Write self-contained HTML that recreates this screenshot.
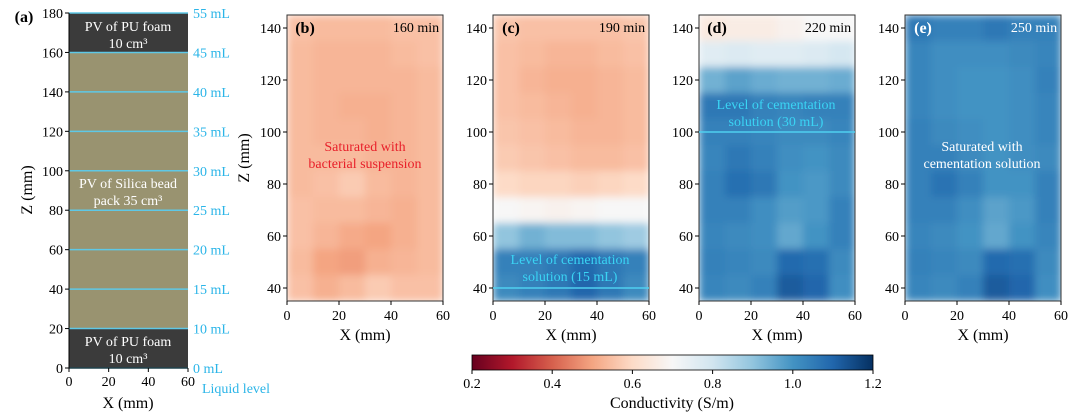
<!DOCTYPE html>
<html><head><meta charset="utf-8"><style>
body{margin:0;background:#fff;}
svg{display:block;font-family:"Liberation Serif",serif;}
</style></head><body>
<svg id="fig" width="1080" height="419" viewBox="0 0 1080 419">
<defs>
<filter id="blur" x="0" y="0" width="1" height="1"><feGaussianBlur stdDeviation="4" edgeMode="duplicate"/></filter>
<linearGradient id="cbgrad" x1="0" x2="1" y1="0" y2="0">
<stop offset="0" stop-color="#67001f"/><stop offset="0.1" stop-color="#b2182b"/><stop offset="0.2" stop-color="#d6604d"/><stop offset="0.3" stop-color="#f4a582"/><stop offset="0.4" stop-color="#fddbc7"/><stop offset="0.5" stop-color="#f7f7f7"/><stop offset="0.6" stop-color="#d1e5f0"/><stop offset="0.7" stop-color="#92c5de"/><stop offset="0.8" stop-color="#4393c3"/><stop offset="0.9" stop-color="#2166ac"/><stop offset="1" stop-color="#053061"/>
</linearGradient>
</defs>
</svg>
<script>
// Panel (a) data
const aZones = [[0,20,'#3b3b3b'],[20,160,'#999370'],[160,180,'#3b3b3b']];
const aLines = [0,20,40,60,80,100,120,140,160,180];
const aVolumes = ['0 mL','10 mL','15 mL','20 mL','25 mL','30 mL','35 mL','40 mL','45 mL','55 mL'];
const aYTicks = [0,20,40,60,80,100,120,140,160,180];
const xTicks = [0,20,40,60];
const hmYTicks = [40,60,80,100,120,140];
const gridX = [0,10,20,30,40,50];
const gridZ = [145,135,125,115,105,95,85,75,65,55,45];
const cbTicks = [0.2,0.4,0.6,0.8,1.0,1.2];

const valsB = [
[.55,.54,.54,.54,.55,.55],[.54,.53,.53,.53,.54,.55],[.54,.53,.53,.53,.53,.54],[.54,.53,.52,.52,.53,.54],
[.54,.53,.53,.52,.53,.54],[.54,.54,.54,.53,.53,.54],[.54,.55,.57,.54,.53,.54],[.55,.54,.54,.53,.52,.54],
[.55,.53,.51,.50,.52,.54],[.54,.50,.49,.52,.53,.54],[.55,.52,.54,.57,.55,.55]];
const valsC = [
[.56,.55,.55,.55,.55,.56],[.55,.54,.53,.53,.54,.55],[.55,.53,.52,.52,.53,.54],[.55,.54,.53,.52,.53,.54],
[.56,.55,.54,.53,.53,.54],[.57,.56,.55,.54,.54,.55],[.60,.59,.59,.58,.59,.60],[.70,.69,.68,.69,.70,.70],
[.90,.94,.92,.92,.90,.88],[1.04,1.04,1.06,1.09,1.06,1.04],[1.02,1.04,1.06,1.10,1.06,1.02]];
const valsD = [
[.65,.66,.66,.68,.70,.70],[.76,.77,.76,.76,.77,.79],[.94,.97,.95,.94,.94,.95],[1.06,1.06,1.04,1.03,1.04,1.04],
[1.04,1.04,1.03,1.02,1.02,1.03],[1.03,1.06,1.04,1.01,1.0,1.02],[1.04,1.08,1.06,1.0,.99,1.02],[1.04,1.04,1.01,.98,.99,1.04],
[1.03,1.02,1.01,.96,1.0,1.04],[1.04,1.03,1.02,1.09,1.08,1.02],[1.03,1.02,1.04,1.12,1.1,1.01]];
const valsE = [
[1.06,1.04,1.04,1.06,1.04,1.04],[1.03,1.01,1.01,1.01,1.02,1.03],[1.03,1.01,1.0,1.0,1.01,1.04],[1.03,1.01,1.0,1.0,1.01,1.03],
[1.04,1.02,1.01,1.0,1.01,1.03],[1.04,1.04,1.02,1.0,1.01,1.02],[1.04,1.07,1.04,1.0,1.0,1.04],[1.04,1.04,1.01,.97,.99,1.04],
[1.03,1.02,1.0,.96,1.0,1.03],[1.04,1.03,1.02,1.09,1.08,1.02],[1.03,1.02,1.04,1.12,1.1,1.01]];

const NS='http://www.w3.org/2000/svg';
const svg=document.getElementById('fig');
function mk(tag,attrs,parent,text){const e=document.createElementNS(NS,tag);for(const k in attrs)e.setAttribute(k,attrs[k]);if(text!==undefined)e.textContent=text;(parent||svg).appendChild(e);return e;}
const stops=[[103,0,31],[178,24,43],[214,96,77],[244,165,130],[253,219,199],[247,247,247],[209,229,240],[146,197,222],[67,147,195],[33,102,172],[5,48,97]];
function cmap(v){let t=(v-0.2)/1.0;t=Math.max(0,Math.min(1,t))*10;const i=Math.min(9,Math.floor(t)),f=t-i;const a=stops[i],b=stops[i+1];return 'rgb('+a.map((c,k)=>Math.round(c+(b[k]-c)*f)).join(',')+')';}

// Panel (a)
const ax={x0:69,x1:188,y0:368,y1:13};
const axX=v=>ax.x0+(ax.x1-ax.x0)*v/60, axY=v=>ax.y0+(ax.y1-ax.y0)*v/180;
const ga=mk('g',{});


aZones.forEach(z=>{const r=mk('rect',{x:axX(0),y:axY(z[1]),width:axX(60)-axX(0),height:axY(z[0])-axY(z[1]),fill:z[2]},ga);

});
aLines.forEach((v,i)=>{const l=mk('line',{x1:axX(0),x2:axX(60),y1:axY(v),y2:axY(v),stroke:'#5ec8e6','stroke-width':1.5},ga);


const t=mk('text',{x:193,y:axY(v)+5,fill:'#2bb5e8','font-size':14},ga,aVolumes[i]);

});
aYTicks.forEach(v=>{mk('line',{x1:axX(0)-4,x2:axX(0),y1:axY(v),y2:axY(v),stroke:'#000'},ga);
const t=mk('text',{x:axX(0)-6,y:axY(v)+5,'text-anchor':'end','font-size':14},ga,v);

});
xTicks.forEach(v=>{mk('line',{x1:axX(v),x2:axX(v),y1:ax.y0,y2:ax.y0+4,stroke:'#000'},ga);
const t=mk('text',{x:axX(v),y:ax.y0+18,'text-anchor':'middle','font-size':14},ga,v);

});
mk('line',{x1:ax.x0,x2:ax.x0,y1:ax.y1,y2:ax.y0,stroke:'#000'},ga);
mk('line',{x1:ax.x0,x2:ax.x1,y1:ax.y0,y2:ax.y0,stroke:'#000'},ga);
function txt(x,y,s,size,fill,name,extra){const t=mk('text',Object.assign({x:x,y:y,'font-size':size,fill:fill,'text-anchor':'middle'},extra||{}),svg,s);

return t;}
txt(128,31,'PV of PU foam',14,'#fff','pu-foam-top-label');
txt(128,48,'10 cm³',14,'#fff','pu-foam-top-volume');
txt(128,188,'PV of Silica bead',14,'#fff','silica-label');
txt(128,205,'pack 35 cm³',14,'#fff','silica-volume');
txt(128,346,'PV of PU foam',14,'#fff','pu-foam-bottom-label');
txt(128,363,'10 cm³',14,'#fff','pu-foam-bottom-volume');
txt(24,22,'(a)',16,'#000','panel-a-label',{'font-weight':'bold'});
txt(128,408,'X (mm)',16,'#000','x-axis-title-a');
txt(0,0,'Z (mm)',16,'#000','y-axis-title-a',{transform:'translate(32,190) rotate(-90)'});
txt(236,393,'Liquid level',14,'#2bb5e8','liquid-level-label');

// Heatmap panels
const panels=[
{x0:287,x1:443,vals:valsB,id:'b',time:'160 min',timeFill:'#000',lblFill:'#000'},
{x0:493,x1:649,vals:valsC,id:'c',time:'190 min',timeFill:'#000',lblFill:'#000'},
{x0:699,x1:855,vals:valsD,id:'d',time:'220 min',timeFill:'#000',lblFill:'#000'},
{x0:905,x1:1061,vals:valsE,id:'e',time:'250 min',timeFill:'#fff',lblFill:'#fff'}];
const yTop=15,yBot=301,zTop=145,zBot=35;
const zY=z=>yBot+(yTop-yBot)*(z-zBot)/(zTop-zBot);
panels.forEach(p=>{
 const X=v=>p.x0+(p.x1-p.x0)*v/60;
 const g=mk('g',{});
 
 
 const cid='clip'+p.id;
 const cp=mk('clipPath',{id:cid},g);mk('rect',{x:p.x0,y:yTop,width:p.x1-p.x0,height:yBot-yTop},cp);
 const hg=mk('g',{'clip-path':'url(#'+cid+')'},g);
 const inner=mk('g',{filter:'url(#blur)'},hg);
 mk('rect',{x:p.x0,y:yTop,width:p.x1-p.x0,height:yBot-yTop,fill:cmap(p.vals[5][2])},inner);
 p.vals.forEach((row,ri)=>row.forEach((v,ci)=>{
  const c=mk('rect',{x:X(gridX[ci]),y:zY(gridZ[ri]),width:X(gridX[ci]+10)-X(gridX[ci])+0.5,height:zY(gridZ[ri]-10)-zY(gridZ[ri])+0.5,fill:cmap(v)},inner);
  
  
 }));
 mk('rect',{x:p.x0,y:yTop,width:p.x1-p.x0,height:yBot-yTop,fill:'none',stroke:'#333','stroke-width':1},g);
 hmYTicks.forEach(v=>{mk('line',{x1:p.x0-4,x2:p.x0,y1:zY(v),y2:zY(v),stroke:'#000'},g);
  const t=mk('text',{x:p.x0-6,y:zY(v)+5,'text-anchor':'end','font-size':14},g,v);
  
  });
 xTicks.forEach(v=>{mk('line',{x1:X(v),x2:X(v),y1:yBot,y2:yBot+4,stroke:'#000'},g);
  const t=mk('text',{x:X(v),y:yBot+19,'text-anchor':'middle','font-size':14},g,v);
  
  });
 txt((p.x0+p.x1)/2,340,'X (mm)',16,'#000','x-axis-title-'+p.id);
 txt(p.x0+18,33,'('+p.id+')',16,p.lblFill,'panel-'+p.id+'-label',{'font-weight':'bold'});
 txt(p.x1-27,32,p.time,14,p.timeFill,'time-label-'+p.id);
});
txt(0,0,'Z (mm)',16,'#000','y-axis-title-b',{transform:'translate(249,158) rotate(-90)'});
// level lines
mk('line',{x1:493,x2:649,y1:zY(40),y2:zY(40),stroke:'#4fd0f0','stroke-width':1.5});
mk('line',{x1:699,x2:855,y1:zY(100),y2:zY(100),stroke:'#4fd0f0','stroke-width':1.5});
txt(365,151,'Saturated with',14,'#e8202a','annotation-b-line1');
txt(365,168,'bacterial suspension',14,'#e8202a','annotation-b-line2');
txt(570,264,'Level of cementation',14,'#3ad4f4','annotation-c-line1');
txt(570,281,'solution (15 mL)',14,'#3ad4f4','annotation-c-line2');
txt(776,109,'Level of cementation',14,'#3ad4f4','annotation-d-line1');
txt(776,126,'solution (30 mL)',14,'#3ad4f4','annotation-d-line2');
txt(982,151,'Saturated with',14,'#fff','annotation-e-line1');
txt(982,168,'cementation solution',14,'#fff','annotation-e-line2');

// Colorbar
const cb={x0:472,x1:873,y0:355,y1:370};
const cbX=v=>cb.x0+(cb.x1-cb.x0)*(v-0.2)/1.0;
const cr=mk('rect',{x:cb.x0,y:cb.y0,width:cb.x1-cb.x0,height:cb.y1-cb.y0,fill:'url(#cbgrad)',stroke:'#000','stroke-width':0.8});


cbTicks.forEach(v=>{mk('line',{x1:cbX(v),x2:cbX(v),y1:cb.y1,y2:cb.y1+4,stroke:'#000'});
 txt(cbX(v),388,v.toFixed(1),14,'#000','colorbar-tick-label');});
txt(672,408,'Conductivity (S/m)',16,'#000','colorbar-title');
</script>
</body></html>
